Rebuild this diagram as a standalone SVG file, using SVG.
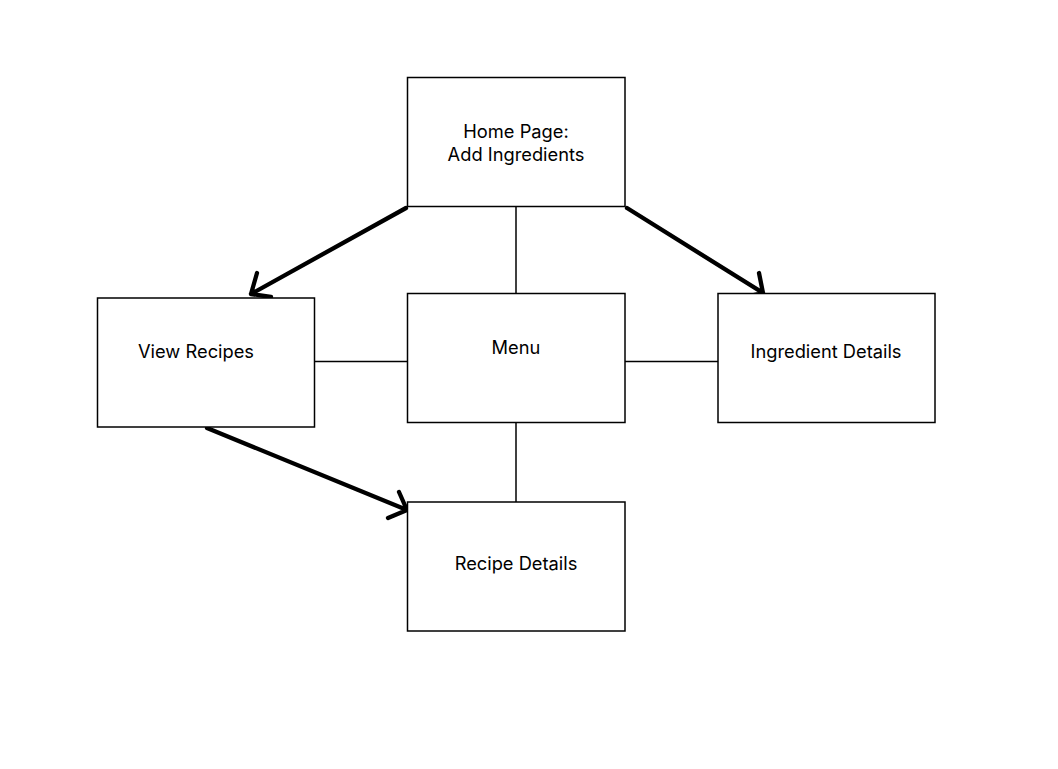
<svg xmlns="http://www.w3.org/2000/svg" width="1058" height="769" viewBox="0 0 1058 769">
<style>
.box{fill:#fff;stroke:#000;stroke-width:1.5}
.lbl{font-family:Inter,"Liberation Sans",sans-serif;font-size:18.3px;fill:#000;text-anchor:middle}
.ln{stroke:#000;stroke-width:1.5;fill:none}
.ar{stroke:#000;stroke-width:4.3;fill:none;stroke-linecap:round;stroke-linejoin:round}
</style>
<rect width="1058" height="769" fill="#fff"/>
<g id="connectors">
<line class="ln" x1="516" y1="206" x2="516" y2="296"/>
<line class="ln" x1="516" y1="422" x2="516" y2="502"/>
<line class="ln" x1="314" y1="361.5" x2="407" y2="361.5"/>
<line class="ln" x1="625" y1="361.5" x2="718" y2="361.5"/>
<path class="ar" d="M406 208 L251 294 M257 273 L251 294 L271 297"/>
<path class="ar" d="M627 208 L763 293 M759 273 L763 293 L744 297"/>
<path class="ar" d="M207 428 L407 510 M399 492 L407 510 L388 518"/>
</g>
<g id="home"><rect class="box" x="407.5" y="77.5" width="217.5" height="129"/>
<text class="lbl" x="516" y="138">Home Page:</text>
<text class="lbl" x="516" y="161">Add Ingredients</text></g>
<g id="view-recipes"><rect class="box" x="97.5" y="298" width="217" height="129"/>
<text class="lbl" x="196" y="358">View Recipes</text></g>
<g id="menu"><rect class="box" x="407.5" y="293.5" width="217.5" height="129"/>
<text class="lbl" x="516" y="354">Menu</text></g>
<g id="ingredient-details"><rect class="box" x="718" y="293.5" width="217" height="129"/>
<text class="lbl" x="826" y="358">Ingredient Details</text></g>
<g id="recipe-details"><rect class="box" x="407.5" y="502" width="217.5" height="129"/>
<text class="lbl" x="516" y="570">Recipe Details</text></g>
</svg>
